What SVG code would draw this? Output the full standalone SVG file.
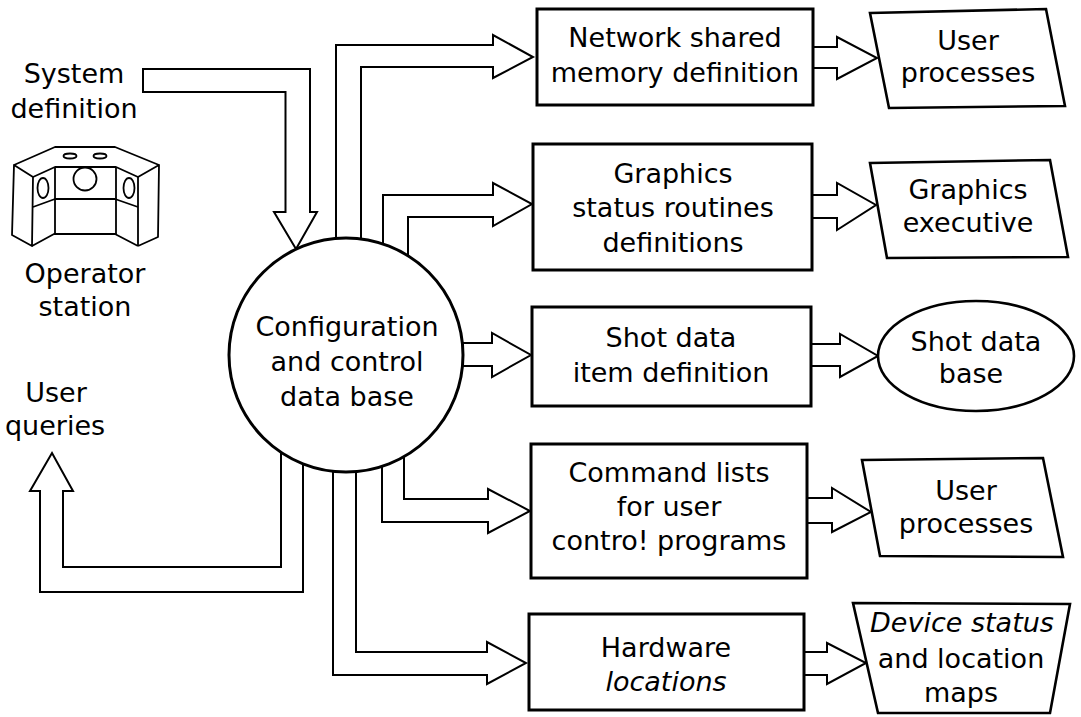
<svg xmlns="http://www.w3.org/2000/svg" width="1081" height="717" viewBox="0 0 1081 717">
  <style>
    text { font-family: "DejaVu Sans", "Liberation Sans", sans-serif; font-size: 27px; text-anchor: middle; fill: #000; }
    .it { font-style: oblique; }
    .box { fill: #fff; stroke: #000; stroke-width: 3; }
    .shape { fill: #fff; stroke: #000; stroke-width: 2.6; stroke-linejoin: miter; }
    .flow { fill: #fff; stroke: #000; stroke-width: 2; stroke-linejoin: miter; }
    .icon { fill: none; stroke: #000; stroke-width: 1.8; stroke-linejoin: round; }
  </style>
  <rect width="1081" height="717" fill="#fff"/>

  <!-- hollow flow arrows -->
  <g id="connectors">
    <path class="flow" d="M143,69 H310 V212 H317 L296,249 L274,212 H285.5 V92 H143 Z"/>
    <path class="flow" d="M336,300 V45 H493 V35 L533,57 L493,78 V67 H361 V300 Z"/>
    <path class="flow" d="M383,300 V195 H493 V183 L532,204 L493,226 V217 H408 V300 Z"/>
    <path class="flow" d="M400,343 H492 V333 L531,355 L492,377 V366 H400 Z"/>
    <path class="flow" d="M404,400 V499 H488 V489 L530,511 L488,533 V522 H382 V400 Z"/>
    <path class="flow" d="M333,400 V675 H487 V684 L526,663 L487,642 V652 H356 V400 Z"/>
    <path class="flow" d="M281,400 V567 H63 V491 H73 L52,453 L30,491 H40 V592 H303 V400 Z"/>
    <path class="flow" d="M805,47 H837 V37 L877,58 L837,79 V68 H805 Z"/>
    <path class="flow" d="M805,195 H837 V183 L876,205 L837,230 V218 H805 Z"/>
    <path class="flow" d="M805,344 H840 V334 L878,356 L840,377 V366 H805 Z"/>
    <path class="flow" d="M800,498 H832 V488 L871,512 L832,532 V523 H800 Z"/>
    <path class="flow" d="M800,652 H827 V643 L866,663 L827,684 V675 H800 Z"/>
  </g>

  <g id="system-definition">
    <text x="74" y="83">System</text>
    <text x="74" y="118">definition</text>
  </g>

  <g id="operator-station">
    <path class="icon" d="M14,165 L55,147 L115,147 L159,165"/>
    <path class="icon" d="M14,165 L33,177 L32,246 L12,235 Z"/>
    <path class="icon" d="M33,177 L55,167 L116,167 L138,177 L159,165 L158,237 L138,246"/>
    <path class="icon" d="M138,177 V246 M55,167 V234 M116,167 V234"/>
    <path class="icon" d="M32,246 L54,234 L115,234 L138,246"/>
    <path class="icon" d="M33,207 L55,199 L115,199 L138,207"/>
    <ellipse class="icon" cx="43" cy="188" rx="5.5" ry="10"/>
    <circle class="icon" cx="85" cy="179" r="11.5"/>
    <ellipse class="icon" cx="129" cy="188" rx="5.5" ry="10"/>
    <ellipse class="icon" cx="70" cy="156" rx="6.5" ry="2.5"/>
    <ellipse class="icon" cx="100" cy="156" rx="6.5" ry="2.5"/>
    <text x="85" y="283">Operator</text>
    <text x="85" y="316">station</text>
  </g>

  <g id="user-queries">
    <text x="56" y="402">User</text>
    <text x="55" y="435">queries</text>
  </g>

  <g id="config-database">
    <circle class="box" cx="346" cy="355" r="117"/>
    <text x="347" y="336">Configuration</text>
    <text x="347" y="371">and control</text>
    <text x="347" y="406">data base</text>
  </g>

  <g id="network-shared-memory">
    <rect class="box" x="537" y="9" width="276" height="96"/>
    <text x="675" y="47">Network shared</text>
    <text x="675" y="82">memory definition</text>
  </g>

  <g id="graphics-status">
    <rect class="box" x="533" y="144" width="279" height="126"/>
    <text x="673" y="183">Graphics</text>
    <text x="673" y="217">status routines</text>
    <text x="673" y="252">definitions</text>
  </g>

  <g id="shot-data-item">
    <rect class="box" x="532" y="307" width="279" height="99"/>
    <text x="671" y="347">Shot data</text>
    <text x="671" y="382">item definition</text>
  </g>

  <g id="command-lists">
    <rect class="box" x="531" y="444" width="276" height="134"/>
    <text x="669" y="482">Command lists</text>
    <text x="669" y="516">for user</text>
    <text x="669" y="550">contro! programs</text>
  </g>

  <g id="hardware-locations">
    <rect class="box" x="529" y="614" width="275" height="96"/>
    <text x="666" y="657">Hardware</text>
    <text class="it" x="666" y="691">locations</text>
  </g>

  <g id="user-processes-1">
    <polygon class="shape" points="870,13 1046,9 1065,106 889,108"/>
    <text x="968" y="50">User</text>
    <text x="968" y="82">processes</text>
  </g>

  <g id="graphics-executive">
    <polygon class="shape" points="870,163 1050,160 1068,257 887,258"/>
    <text x="968" y="199">Graphics</text>
    <text x="968" y="232">executive</text>
  </g>

  <g id="shot-data-base">
    <ellipse class="shape" cx="976" cy="356" rx="98" ry="55"/>
    <text x="976" y="351">Shot data</text>
    <text x="971" y="383">base</text>
  </g>

  <g id="user-processes-2">
    <polygon class="shape" points="862,460 1043,458 1063,557 880,556"/>
    <text x="966" y="500">User</text>
    <text x="966" y="533">processes</text>
  </g>

  <g id="device-status-maps">
    <polygon class="shape" points="853,603 1070,604 1050,713 878,713"/>
    <text class="it" x="962" y="632">Device status</text>
    <text x="961" y="668">and location</text>
    <text x="961" y="702">maps</text>
  </g>
</svg>
